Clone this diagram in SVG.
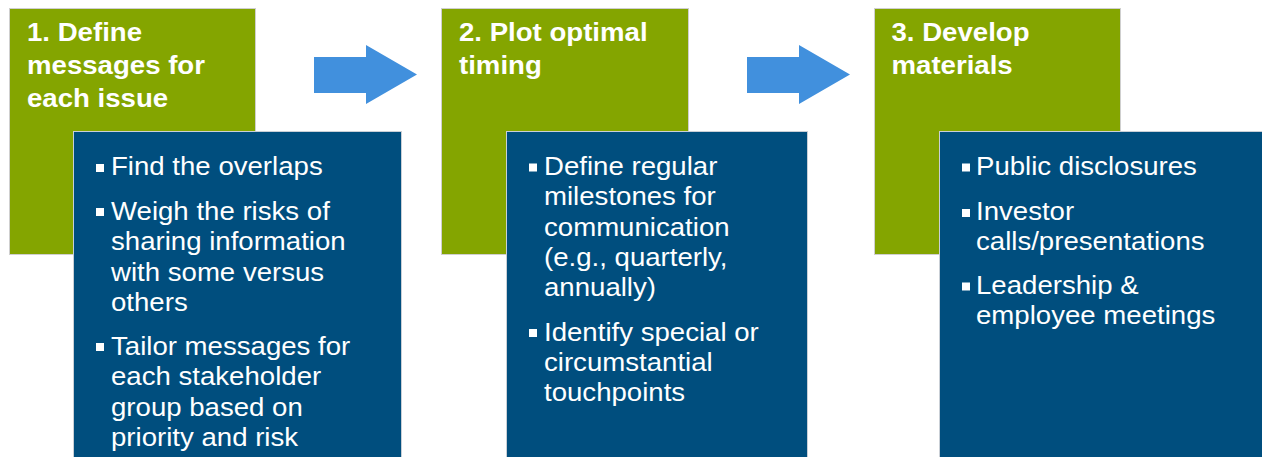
<svg xmlns="http://www.w3.org/2000/svg" width="1262" height="457" viewBox="0 0 1262 457">
  <style>
    .step { fill: #84A500; stroke: #cfcfcf; stroke-width: 1; }
    .detail { fill: #004E7E; stroke: #c9cfd6; stroke-width: 1; }
    .arrow { fill: #4190DD; }
    .title { font-family: "Liberation Sans", Arial, sans-serif; font-weight: bold; font-size: 25px; fill: #ffffff; }
    .item { font-family: "Liberation Sans", Arial, sans-serif; font-size: 25px; fill: #ffffff; }
    .dot { fill: #ffffff; }
  </style>

  <!-- flow arrows between the steps -->
  <g id="connectors">
    <polygon class="arrow" points="314,57 366,57 366,45 417,74.5 366,104 366,93 314,93"/>
    <polygon class="arrow" points="747,57 799,57 799,45 850,74.5 799,104 799,93 747,93"/>
  </g>

  <!-- Step 1 -->
  <g id="step1">
    <rect class="step" x="9.5" y="8.5" width="246" height="246"/>
    <g transform="translate(27 0) scale(1.104 1)">
      <text class="title" x="0" y="41.5">1. Define</text>
      <text class="title" x="0" y="74.5">messages for</text>
      <text class="title" x="0" y="107.5">each issue</text>
    </g>
  </g>
  <g id="details1">
    <rect class="detail" x="73.5" y="131.5" width="328" height="330"/>
    <rect class="dot" x="96" y="164" width="8" height="8"/>
    <rect class="dot" x="96" y="208" width="8" height="8"/>
    <rect class="dot" x="96" y="343" width="8" height="8"/>
    <g transform="translate(111 0) scale(1.104 1)">
      <text class="item" x="0" y="175.5">Find the overlaps</text>
      <text class="item" x="0" y="220">Weigh the risks of</text>
      <text class="item" x="0" y="250.3">sharing information</text>
      <text class="item" x="0" y="280.6">with some versus</text>
      <text class="item" x="0" y="311">others</text>
      <text class="item" x="0" y="355">Tailor messages for</text>
      <text class="item" x="0" y="385.3">each stakeholder</text>
      <text class="item" x="0" y="415.6">group based on</text>
      <text class="item" x="0" y="446">priority and risk</text>
    </g>
  </g>

  <!-- Step 2 -->
  <g id="step2">
    <rect class="step" x="441.5" y="8.5" width="247" height="246"/>
    <g transform="translate(459 0) scale(1.104 1)">
      <text class="title" x="0" y="41.5">2. Plot optimal</text>
      <text class="title" x="0" y="74.5">timing</text>
    </g>
  </g>
  <g id="details2">
    <rect class="detail" x="506.5" y="131.5" width="301" height="330"/>
    <rect class="dot" x="529" y="163.5" width="8" height="8"/>
    <rect class="dot" x="529" y="329" width="8" height="8"/>
    <g transform="translate(544 0) scale(1.104 1)">
      <text class="item" x="0" y="175">Define regular</text>
      <text class="item" x="0" y="205.5">milestones for</text>
      <text class="item" x="0" y="236">communication</text>
      <text class="item" x="0" y="266.3">(e.g., quarterly,</text>
      <text class="item" x="0" y="296.5">annually)</text>
      <text class="item" x="0" y="340.7">Identify special or</text>
      <text class="item" x="0" y="371">circumstantial</text>
      <text class="item" x="0" y="401.3">touchpoints</text>
    </g>
  </g>

  <!-- Step 3 -->
  <g id="step3">
    <rect class="step" x="874.5" y="8.5" width="246" height="246"/>
    <g transform="translate(891.5 0) scale(1.104 1)">
      <text class="title" x="0" y="41.5">3. Develop</text>
      <text class="title" x="0" y="74.5">materials</text>
    </g>
  </g>
  <g id="details3">
    <rect class="detail" x="939.5" y="131.5" width="330" height="330"/>
    <rect class="dot" x="962" y="163.5" width="8" height="8"/>
    <rect class="dot" x="962" y="209" width="8" height="8"/>
    <rect class="dot" x="962" y="282.5" width="8" height="8"/>
    <g transform="translate(976 0) scale(1.104 1)">
      <text class="item" x="0" y="175">Public disclosures</text>
      <text class="item" x="0" y="220.5">Investor</text>
      <text class="item" x="0" y="250.5">calls/presentations</text>
      <text class="item" x="0" y="294.5">Leadership &amp;</text>
      <text class="item" x="0" y="324.5">employee meetings</text>
    </g>
  </g>
</svg>
